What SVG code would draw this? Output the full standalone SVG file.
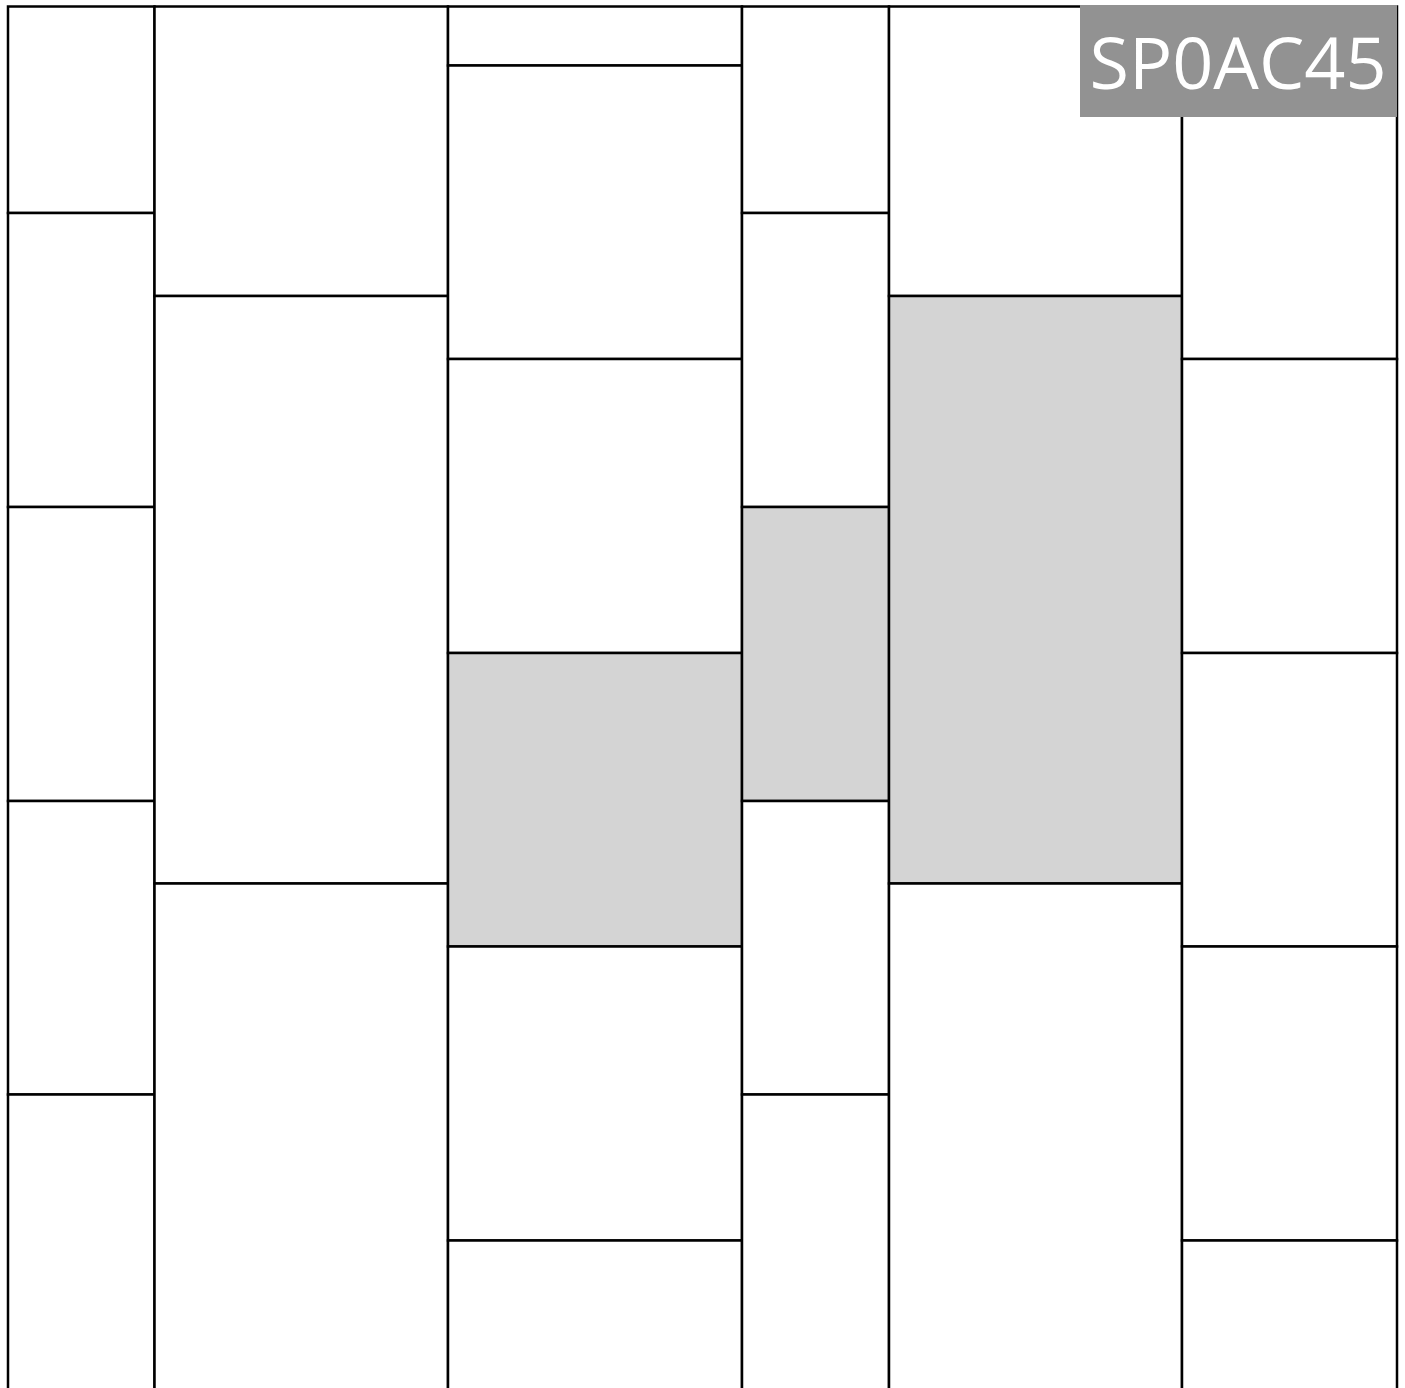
<svg xmlns="http://www.w3.org/2000/svg" width="1405" height="1388" viewBox="0 0 1405 1388">
<style>
.t{fill:#ffffff;stroke:#000;stroke-width:2.5}
.g{fill:#d4d4d4;stroke:#000;stroke-width:2.5}
.lbl{font-family:"Open Sans","Noto Sans",sans-serif;font-size:72px;fill:#ffffff}
</style>
<rect x="0" y="0" width="1405" height="1388" fill="#ffffff"/>
<g id="col1">
<rect class="t" x="8" y="6.5" width="146.5" height="206.5"/>
<rect class="t" x="8" y="213" width="146.5" height="294"/>
<rect class="t" x="8" y="507" width="146.5" height="294"/>
<rect class="t" x="8" y="801" width="146.5" height="293.5"/>
<rect class="t" x="8" y="1094.5" width="146.5" height="300"/>
</g>
<g id="col2">
<rect class="t" x="154.5" y="6.5" width="293.5" height="289.5"/>
<rect class="t" x="154.5" y="296" width="293.5" height="587.5"/>
<rect class="t" x="154.5" y="883.5" width="293.5" height="510"/>
</g>
<g id="col3">
<rect class="t" x="448" y="6.5" width="294" height="59"/>
<rect class="t" x="448" y="65.5" width="294" height="293.5"/>
<rect class="t" x="448" y="359" width="294" height="294"/>
<rect class="g" x="448" y="653" width="294" height="293.5"/>
<rect class="t" x="448" y="946.5" width="294" height="294"/>
<rect class="t" x="448" y="1240.5" width="294" height="154"/>
</g>
<g id="col4">
<rect class="t" x="742" y="6.5" width="147" height="206.5"/>
<rect class="t" x="742" y="213" width="147" height="294"/>
<rect class="g" x="742" y="507" width="147" height="294"/>
<rect class="t" x="742" y="801" width="147" height="293.5"/>
<rect class="t" x="742" y="1094.5" width="147" height="300"/>
</g>
<g id="col5">
<rect class="t" x="889" y="6.5" width="293" height="289.5"/>
<rect class="g" x="889" y="296" width="293" height="587.5"/>
<rect class="t" x="889" y="883.5" width="293" height="510"/>
</g>
<g id="col6">
<rect class="t" x="1182" y="6.5" width="215" height="352.5"/>
<rect class="t" x="1182" y="359" width="215" height="294"/>
<rect class="t" x="1182" y="653" width="215" height="293.5"/>
<rect class="t" x="1182" y="946.5" width="215" height="294"/>
<rect class="t" x="1182" y="1240.5" width="215" height="154"/>
</g>
<g id="label">
<rect x="1080" y="5" width="317" height="112" fill="#929292"/>
<text class="lbl" x="1238" y="89" text-anchor="middle">SP0AC45</text>
</g>
</svg>
